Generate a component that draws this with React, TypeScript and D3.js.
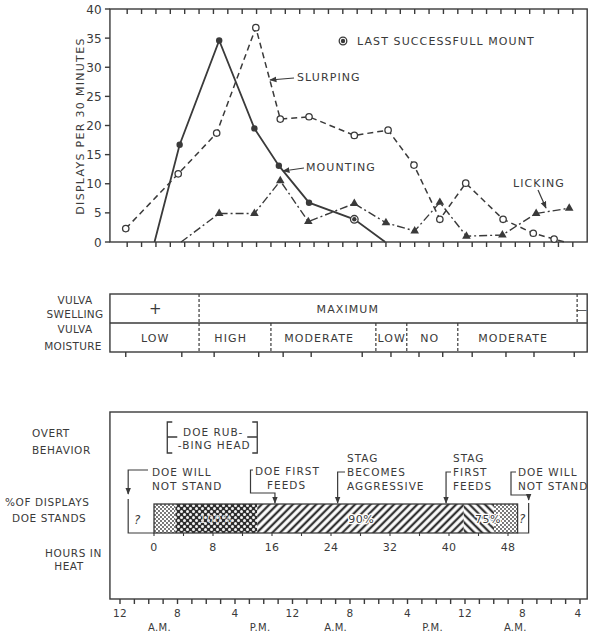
import React from 'react';
import * as d3 from 'd3';

// ---------- data (clock hours from 12 A.M. of day 1) ----------
const slurpingHours = [0.8, 8.1, 13.45, 18.9, 22.3, 26.3, 32.6, 37.3, 40.9, 44.5, 48.1, 53.3, 57.5, 60.4];
const slurpingValues = [2.3, 11.7, 18.7, 36.8, 21.1, 21.5, 18.3, 19.2, 13.2, 3.9, 10.1, 3.9, 1.5, 0.5];
const slurpingTail = [61.9, 0];

const mountingHours = [8.3, 13.8, 18.7, 22.1, 26.3, 32.6];
const mountingValues = [16.7, 34.6, 19.5, 13.1, 6.75, 3.9];
const mountingHead = [4.8, 0];
const mountingTail = [36.9, 0];

const lickingHours = [13.8, 18.7, 22.3, 26.2, 32.6, 37.0, 41.0, 44.5, 48.2, 53.2, 57.9, 62.5];
const lickingValues = [4.9, 4.9, 10.5, 3.5, 6.6, 3.3, 1.9, 6.8, 1.0, 1.2, 4.9, 5.8];
const lickingHead = [8.5, 0];

const sampleHours = [0.8, 8.6, 13.1, 19.3, 22.7, 26.6, 33.7, 37.7, 41.6, 44.9, 49.0, 53.7, 57.6, 63.2];

const yTicks = [0, 5, 10, 15, 20, 25, 30, 35, 40];
const clockTickLabels = ['12', '8', '4', '12', '8', '4', '12', '8', '4'];
const clockTickHours = [0, 8, 16, 24, 32, 40, 48, 56, 64];
const meridiemLabels = ['A.M.', 'P.M.', 'A.M.', 'P.M.', 'A.M.'];
const meridiemHours = [5.5, 19.5, 30.0, 43.5, 55.0];

const swellingBounds = [-1.4, 11.0, 63.6, 65];
const swellingLabels = ['+', 'MAXIMUM', '—'];
const swellingLabelHours = [4.9, 31.7, 64.3];

const moistureBounds = [-1.4, 11.0, 21.0, 35.6, 39.9, 47.0, 65];
const moistureLabels = ['LOW', 'HIGH', 'MODERATE', 'LOW', 'NO', 'MODERATE'];
const moistureLabelHours = [4.9, 15.4, 27.7, 37.8, 43.1, 54.7];

// hours in heat
const heatTicks = [0, 8, 16, 24, 32, 40, 48];
const standBounds = [0, 2.9, 14.0, 42.0, 46.1, 49.3];
const standPercentLabels = ['100%', '90%', '75%'];
const standPercentHours = [8.4, 28.1, 45.3];
const rubbingSpan = [1.8, 14.0];
const eventHours = { doeStopsLeft: -3.5, doeFeeds: 16.4, stagAggressive: 24.9, stagFeeds: 39.6, doeStopsRight: 50.8 };

const FONT = "'DejaVu Sans', 'Liberation Sans', sans-serif";
const INK = '#3a3a3a';

export default function App() {
  const x = d3.scaleLinear().domain([0, 64]).range([120, 580]);
  const y = d3.scaleLinear().domain([0, 40]).range([242, 9]);
  const xh = d3.scaleLinear().domain([0, 48]).range([154, 508]);
  const L = x(-1.4), R = x(65);
  const line = d3.line<number[]>().x(d => x(d[0])).y(d => y(d[1]));

  const slurpPts = slurpingHours.map((h, i) => [h, slurpingValues[i]]);
  const mountPts = mountingHours.map((h, i) => [h, mountingValues[i]]);
  const lickPts = lickingHours.map((h, i) => [h, lickingValues[i]]);
  const tri = d3.symbol(d3.symbolTriangle, 32)();

  const txt = (props: any, s: string) => (
    <text fontFamily={FONT} fill={INK} fontSize={11} letterSpacing={1.1} {...props}>{s}</text>
  );

  const oddHours = d3.range(1, 64, 2);
  const evenHours = d3.range(0, 65, 2);
  const heatMinor = d3.range(0, 49, 4);
  const standFills = ['url(#dotsLight)', 'url(#dotsDense)', 'url(#hatchUp)', 'url(#hatchDown)', 'url(#dotsLight)'];

  const barTop = 504, barBot = 533;
  const tTop = 294, tMid = 323, tBot = 352;
  const fTop = 412, fBot = 599;

  return (
    <svg width={590} height={635} style={{ position: 'absolute', left: 0, top: 0, background: '#fff' }}>
      <defs>
        <marker id="arr" viewBox="0 0 10 10" refX="9" refY="5" markerWidth="6" markerHeight="6" orient="auto-start-reverse">
          <path d="M0,1 L10,5 L0,9 z" fill={INK} />
        </marker>
        <pattern id="dotsLight" width="4" height="4" patternUnits="userSpaceOnUse">
          <rect width="4" height="4" fill="#fff" />
          <circle cx="1" cy="1" r="0.9" fill={INK} />
          <circle cx="3" cy="3" r="0.9" fill={INK} />
        </pattern>
        <pattern id="dotsDense" width="6" height="6" patternUnits="userSpaceOnUse">
          <rect width="6" height="6" fill="#2e2e2e" />
          <circle cx="1.5" cy="1.5" r="1.5" fill="#f4f4f4" />
          <circle cx="4.5" cy="4.5" r="1.5" fill="#f4f4f4" />
        </pattern>
        <pattern id="hatchUp" width="5.5" height="5.5" patternUnits="userSpaceOnUse" patternTransform="rotate(45)">
          <rect width="5.5" height="5.5" fill="#fff" />
          <line x1="2.75" y1="0" x2="2.75" y2="5.5" stroke="#333" strokeWidth="2.3" />
        </pattern>
        <pattern id="hatchDown" width="5.5" height="5.5" patternUnits="userSpaceOnUse" patternTransform="rotate(-45)">
          <rect width="5.5" height="5.5" fill="#fff" />
          <line x1="2.75" y1="0" x2="2.75" y2="5.5" stroke="#333" strokeWidth="2.3" />
        </pattern>
      </defs>

      {/* ---------------- TOP CHART ---------------- */}
      <g stroke={INK} strokeWidth={1.4} fill="none">
        <rect x={L} y={y(40)} width={R - L} height={y(0) - y(40)} />
        {oddHours.map(h => <line key={'tt' + h} x1={x(h)} x2={x(h)} y1={y(40)} y2={y(40) + 5} />)}
        {oddHours.map(h => <line key={'tb' + h} x1={x(h)} x2={x(h)} y1={y(0)} y2={y(0) + 5} />)}
        {yTicks.map(t => <line key={'yt' + t} x1={L - 5} x2={L} y1={y(t)} y2={y(t)} />)}
      </g>
      {yTicks.map(t => txt({ key: 'yl' + t, x: 102, y: y(t) + 4.5, textAnchor: 'end', fontSize: 12, letterSpacing: 0.3 }, String(t)))}
      {txt({ x: 0, y: 0, textAnchor: 'middle', fontSize: 11, letterSpacing: 1.3, transform: 'translate(84,126) rotate(-90)' }, 'DISPLAYS PER 30 MINUTES')}

      {/* series */}
      <path d={line([...slurpPts, slurpingTail])!} fill="none" stroke={INK} strokeWidth={1.5} strokeDasharray="6,4" />
      <path d={line([mountingHead, ...mountPts, mountingTail])!} fill="none" stroke={INK} strokeWidth={1.8} />
      <path d={line([lickingHead, ...lickPts])!} fill="none" stroke={INK} strokeWidth={1.4} strokeDasharray="8,3,2,3" />
      {slurpPts.map((p, i) => <circle key={'sp' + i} cx={x(p[0])} cy={y(p[1])} r={3.2} fill="#fff" stroke={INK} strokeWidth={1.3} />)}
      {mountPts.map((p, i) => i === mountPts.length - 1
        ? <g key={'mp' + i}><circle cx={x(p[0])} cy={y(p[1])} r={3.8} fill="#fff" stroke={INK} strokeWidth={1.3} /><circle cx={x(p[0])} cy={y(p[1])} r={2.2} fill={INK} /></g>
        : <circle key={'mp' + i} cx={x(p[0])} cy={y(p[1])} r={3.2} fill={INK} />)}
      {lickPts.map((p, i) => <path key={'lp' + i} d={tri!} transform={`translate(${x(p[0])},${y(p[1])})`} fill={INK} />)}

      {/* annotations */}
      <circle cx={343} cy={41} r={3.8} fill="#fff" stroke={INK} strokeWidth={1.3} />
      <circle cx={343} cy={41} r={2.2} fill={INK} />
      {txt({ x: 357, y: 45 }, 'LAST SUCCESSFULL MOUNT')}
      {txt({ x: 297, y: 81 }, 'SLURPING')}
      <line x1={294} y1={78} x2={270} y2={80} stroke={INK} strokeWidth={1.2} markerEnd="url(#arr)" />
      {txt({ x: 306, y: 171 }, 'MOUNTING')}
      <line x1={304} y1={168} x2={283} y2={171} stroke={INK} strokeWidth={1.2} markerEnd="url(#arr)" />
      {txt({ x: 513, y: 187 }, 'LICKING')}
      <line x1={538} y1={190} x2={546} y2={208} stroke={INK} strokeWidth={1.2} markerEnd="url(#arr)" />

      {/* ---------------- MIDDLE TABLE ---------------- */}
      <g stroke={INK} strokeWidth={1.4} fill="none">
        <rect x={L} y={tTop} width={R - L} height={tBot - tTop} />
        <line x1={L} x2={R} y1={tMid} y2={tMid} />
        {swellingBounds.slice(1, -1).map((h, i) => <line key={'sb' + i} x1={x(h)} x2={x(h)} y1={tTop} y2={tMid} strokeDasharray="3,2" strokeWidth={1.2} />)}
        {moistureBounds.slice(1, -1).map((h, i) => <line key={'mb' + i} x1={x(h)} x2={x(h)} y1={tMid} y2={tBot} strokeDasharray="3,2" strokeWidth={1.2} />)}
        {sampleHours.map((h, i) => <line key={'st' + i} x1={x(h)} x2={x(h)} y1={tBot} y2={tBot + 5} />)}
      </g>
      {swellingLabels.map((s, i) => txt({ key: 'sl' + i, x: x(swellingLabelHours[i]), y: s === '+' ? 314 : 313, textAnchor: 'middle', fontSize: s === '+' ? 15 : 11, letterSpacing: s === '+' ? 0 : 1.1 }, s))}
      {moistureLabels.map((s, i) => txt({ key: 'ml' + i, x: x(moistureLabelHours[i]), y: 342, textAnchor: 'middle' }, s))}
      {txt({ x: 75, y: 304, textAnchor: 'middle', fontSize: 10.5, letterSpacing: 0.3 }, 'VULVA')}
      {txt({ x: 75, y: 318, textAnchor: 'middle', fontSize: 10.5, letterSpacing: 0.3 }, 'SWELLING')}
      {txt({ x: 75, y: 333, textAnchor: 'middle', fontSize: 10.5, letterSpacing: 0.3 }, 'VULVA')}
      {txt({ x: 73, y: 350, textAnchor: 'middle', fontSize: 10.5, letterSpacing: 0.3 }, 'MOISTURE')}

      {/* ---------------- BOTTOM SECTION ---------------- */}
      <g stroke={INK} strokeWidth={1.4} fill="none">
        <rect x={L} y={fTop} width={R - L} height={fBot - fTop} />
        {evenHours.map(h => <line key={'bt' + h} x1={x(h)} x2={x(h)} y1={fBot} y2={fBot + 5} />)}
      </g>
      {clockTickLabels.map((s, i) => txt({ key: 'cl' + i, x: x(clockTickHours[i]) - (i === clockTickLabels.length - 1 ? 2 : 0), y: 617, textAnchor: 'middle', fontSize: 10.5, letterSpacing: 0.3 }, s))}
      {meridiemLabels.map((s, i) => txt({ key: 'md' + i, x: x(meridiemHours[i]), y: 631, textAnchor: 'middle', fontSize: 10, letterSpacing: 0.3 }, s))}

      {/* left labels */}
      {txt({ x: 32, y: 437, fontSize: 10.5, letterSpacing: 0.6 }, 'OVERT')}
      {txt({ x: 32, y: 454, fontSize: 10.5, letterSpacing: 0.6 }, 'BEHAVIOR')}
      {txt({ x: 5, y: 506, fontSize: 10.5, letterSpacing: 0.6 }, '%OF DISPLAYS')}
      {txt({ x: 12, y: 522, fontSize: 10.5, letterSpacing: 0.6 }, 'DOE  STANDS')}
      {txt({ x: 102, y: 557, textAnchor: 'end', fontSize: 10.5, letterSpacing: 0.6 }, 'HOURS IN')}
      {txt({ x: 69, y: 570, textAnchor: 'middle', fontSize: 10.5, letterSpacing: 0.6 }, 'HEAT')}

      {/* doe rubbing head bracket */}
      <g stroke={INK} strokeWidth={1.3} fill="none">
        <path d={`M${xh(rubbingSpan[0]) + 5},422 H${xh(rubbingSpan[0])} V453 H${xh(rubbingSpan[0]) + 5} M${xh(rubbingSpan[0])},437 H${xh(rubbingSpan[0]) + 10}`} />
        <path d={`M${xh(rubbingSpan[1]) - 5},422 H${xh(rubbingSpan[1])} V453 H${xh(rubbingSpan[1]) - 5} M${xh(rubbingSpan[1])},437 H${xh(rubbingSpan[1]) - 10}`} />
      </g>
      {txt({ x: (xh(rubbingSpan[0]) + xh(rubbingSpan[1])) / 2 + 1, y: 436, textAnchor: 'middle', fontSize: 10.5, letterSpacing: 1 }, 'DOE RUB-')}
      {txt({ x: (xh(rubbingSpan[0]) + xh(rubbingSpan[1])) / 2 + 2, y: 449, textAnchor: 'middle', fontSize: 10.5, letterSpacing: 1 }, '-BING HEAD')}

      {/* stand bar */}
      {standBounds.slice(0, -1).map((b, i) => (
        <rect key={'sb' + i} x={xh(b)} y={barTop} width={xh(standBounds[i + 1]) - xh(b)} height={barBot - barTop} fill={standFills[i]} />
      ))}
      <rect x={xh(standBounds[0])} y={barTop} width={xh(standBounds[standBounds.length - 1]) - xh(standBounds[0])} height={barBot - barTop} fill="none" stroke={INK} strokeWidth={1.3} />
      {standPercentLabels.map((s, i) => (
        <text key={'pl' + i} x={xh(standPercentHours[i])} y={523} textAnchor="middle" fontFamily={FONT} fontSize={11} letterSpacing={0.5}
          fill={i === 0 ? '#d8d8d8' : INK} stroke={i === 0 ? 'none' : '#fff'} strokeWidth={2.5} paintOrder="stroke">{s}</text>
      ))}
      <g stroke={INK} strokeWidth={1.1}>
        {heatMinor.map(h => <line key={'hm' + h} x1={xh(h)} x2={xh(h)} y1={barBot} y2={barBot + 3} />)}
      </g>
      {heatTicks.map(t => txt({ key: 'ht' + t, x: xh(t), y: 551, textAnchor: 'middle', fontSize: 11, letterSpacing: 0.3 }, String(t)))}

      {/* event brackets */}
      <g stroke={INK} strokeWidth={1.2} fill="none">
        <path d={`M148,470 H${xh(eventHours.doeStopsLeft)} V494`} markerEnd="url(#arr)" />
        <path d={`M${xh(eventHours.doeStopsLeft)},499 V${barBot} H${xh(0)}`} />
        <path d={`M253,470 H250.5 V493 H${xh(eventHours.doeFeeds)} V${barTop - 1}`} markerEnd="url(#arr)" />
        <path d={`M345,472 H${xh(eventHours.stagAggressive)} V${barTop - 1}`} markerEnd="url(#arr)" />
        <path d={`M451,472 H${xh(eventHours.stagFeeds)} V${barTop - 1}`} markerEnd="url(#arr)" />
        <path d={`M516,472 H511 V495 H${xh(eventHours.doeStopsRight)} V500`} markerEnd="url(#arr)" />
        <path d={`M${xh(eventHours.doeStopsRight)},503 V${barBot} H${xh(standBounds[standBounds.length - 1])}`} />
      </g>
      {txt({ x: 134, y: 524, fontSize: 12, fontStyle: 'italic' }, '?')}
      {txt({ x: 519, y: 523, fontSize: 12, fontStyle: 'italic' }, '?')}
      {txt({ x: 152, y: 476, fontSize: 10.5, letterSpacing: 1 }, 'DOE WILL')}
      {txt({ x: 152, y: 490, fontSize: 10.5, letterSpacing: 1 }, 'NOT STAND')}
      {txt({ x: 255, y: 475, fontSize: 10.5, letterSpacing: 1 }, 'DOE FIRST')}
      {txt({ x: 267, y: 489, fontSize: 10.5, letterSpacing: 1 }, 'FEEDS')}
      {txt({ x: 347, y: 462, fontSize: 10.5, letterSpacing: 1 }, 'STAG')}
      {txt({ x: 347, y: 476, fontSize: 10.5, letterSpacing: 1 }, 'BECOMES')}
      {txt({ x: 347, y: 490, fontSize: 10.5, letterSpacing: 1 }, 'AGGRESSIVE')}
      {txt({ x: 453, y: 462, fontSize: 10.5, letterSpacing: 1 }, 'STAG')}
      {txt({ x: 453, y: 476, fontSize: 10.5, letterSpacing: 1 }, 'FIRST')}
      {txt({ x: 453, y: 490, fontSize: 10.5, letterSpacing: 1 }, 'FEEDS')}
      {txt({ x: 518, y: 476, fontSize: 10.5, letterSpacing: 1 }, 'DOE WILL')}
      {txt({ x: 518, y: 490, fontSize: 10.5, letterSpacing: 1 }, 'NOT STAND')}
    </svg>
  );
}
